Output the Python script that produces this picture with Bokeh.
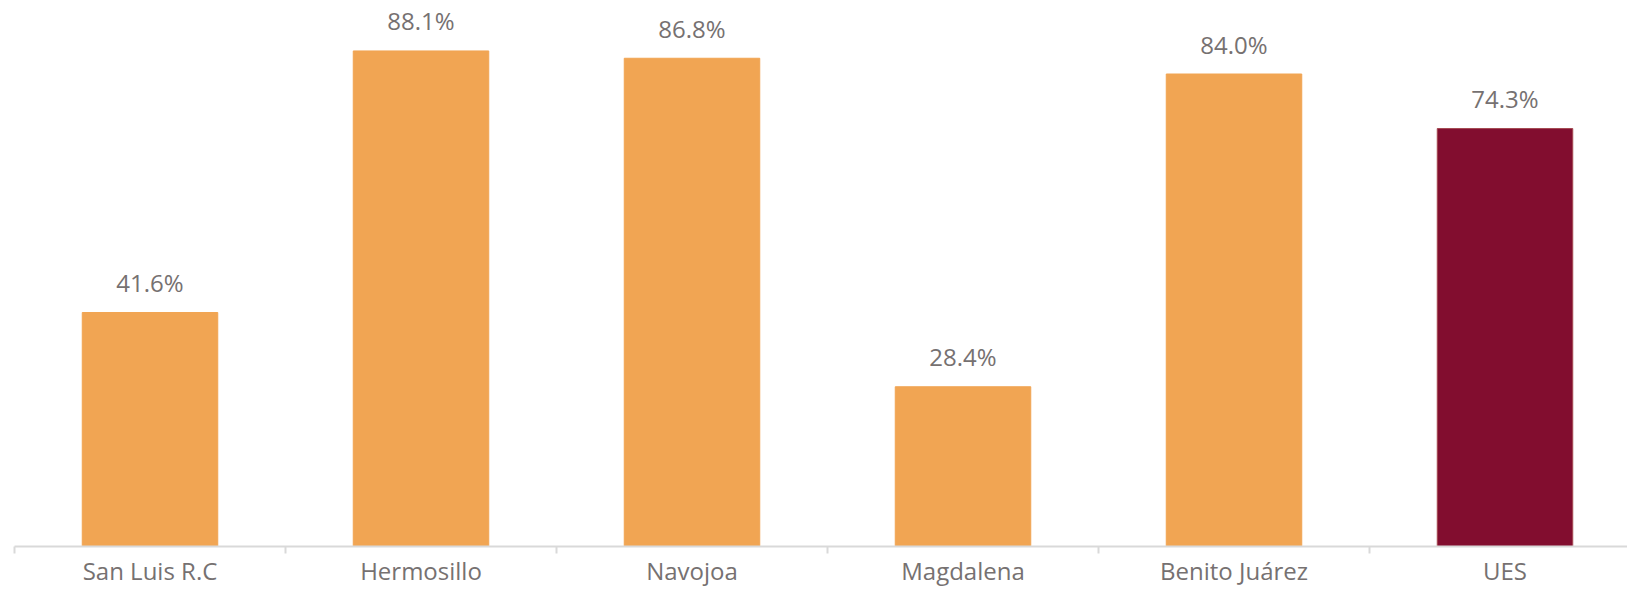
from bokeh.plotting import figure
from bokeh.models import Range1d, LinearAxis, FixedTicker, ColumnDataSource
from bokeh.core.properties import value
from bokeh.embed import file_html
from bokeh.resources import INLINE

categories = ["San Luis R.C", "Hermosillo", "Navojoa", "Magdalena", "Benito Juárez", "UES"]
percentages = [41.6, 88.1, 86.8, 28.4, 84.0, 74.3]
bar_colors = ["#F1A553", "#F1A553", "#F1A553", "#F1A553", "#F1A553", "#820D2F"]
edge_colors = ["#F1A553", "#F1A553", "#F1A553", "#F1A553", "#F1A553", "#A4474F"]

FONT = "Open Sans"
TEXT_COLOR = "#767171"
AXIS_COLOR = "#D9D9D9"

n = len(categories)
centers = [i + 0.5 for i in range(n)]
bounds = [float(i) for i in range(n + 1)]
labels = [f"{v:.1f}%" for v in percentages]

src = ColumnDataSource(dict(x=centers, top=percentages, color=bar_colors,
                            edge=edge_colors, label=labels))

W, H = 1627, 591
LEFT, BOTTOM = 14, 45
CAT_PX = 271.0
PX_PER_PCT = 5.625

p = figure(width=W, height=H,
           x_range=Range1d(0, (W - LEFT) / CAT_PX),
           y_range=Range1d(0, (H - BOTTOM) / PX_PER_PCT),
           output_backend="svg", toolbar_location=None,
           x_axis_type=None, y_axis_type=None,
           min_border_left=LEFT, min_border_right=0, min_border_top=0,
           min_border_bottom=BOTTOM)
p.outline_line_color = None
p.xgrid.visible = False
p.ygrid.visible = False
p.background_fill_color = "white"
p.border_fill_color = "white"

p.vbar(x="x", top="top", bottom=0, width=0.5, fill_color="color",
       line_color="edge", line_width=1, source=src)

p.text(x="x", y="top", text="label", source=src,
       text_font=value(FONT), text_font_size="24px", text_color=TEXT_COLOR,
       text_align="center", text_baseline="alphabetic", y_offset=-30)

ax = LinearAxis(ticker=FixedTicker(ticks=centers, minor_ticks=bounds))
ax.major_label_overrides = {c: name for c, name in zip(centers, categories)}
ax.axis_line_color = AXIS_COLOR
ax.axis_line_width = 2
ax.major_tick_out = 0
ax.major_tick_in = 0
ax.major_tick_line_color = None
ax.minor_tick_out = 7
ax.minor_tick_in = 0
ax.minor_tick_line_color = AXIS_COLOR
ax.minor_tick_line_width = 2
ax.major_label_standoff = 0
ax.major_label_text_font = FONT
ax.major_label_text_font_size = "24px"
ax.major_label_text_color = TEXT_COLOR
p.add_layout(ax, "below")

open("out.html", "w").write(file_html(p, INLINE))
